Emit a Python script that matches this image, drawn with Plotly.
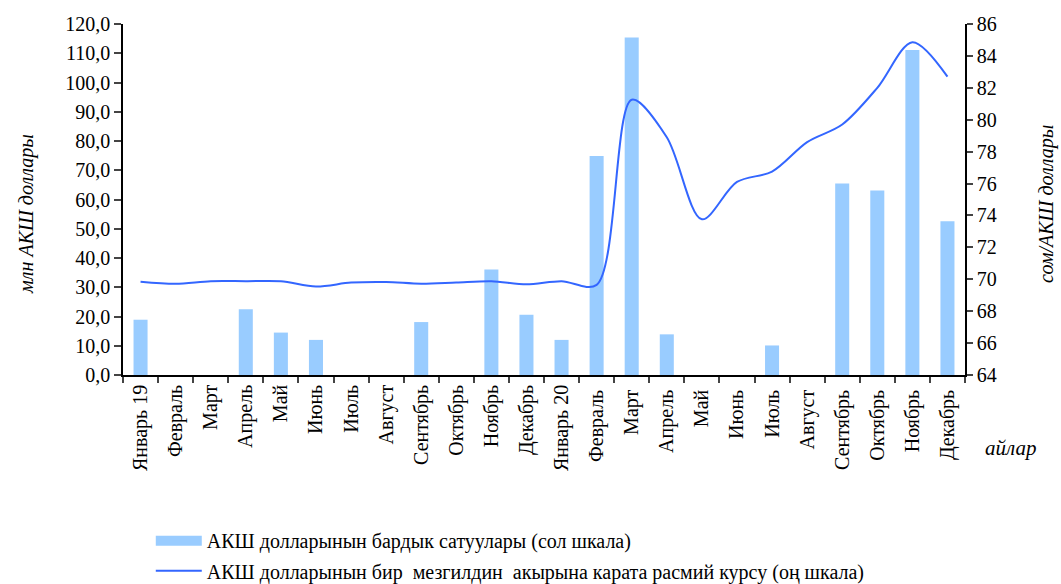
import plotly.graph_objects as go

months = ["Январь 19", "Февраль", "Март", "Апрель", "Май", "Июнь", "Июль", "Август",
          "Сентябрь", "Октябрь", "Ноябрь", "Декабрь", "Январь 20", "Февраль ", "Март ",
          "Апрель ", "Май ", "Июнь ", "Июль ", "Август ", "Сентябрь ", "Октябрь ",
          "Ноябрь ", "Декабрь "]

sales = [18.9, None, None, 22.5, 14.5, 12.0, None, None, 18.1, None, 36.1, 20.6, 12.0,
         74.9, 115.4, 13.9, None, None, 10.1, None, 65.5, 63.1, 111.1, 52.6]

rate = [69.85, 69.72, 69.88, 69.88, 69.88, 69.55, 69.79, 69.83, 69.72, 69.80, 69.88, 69.69,
        69.88, 69.65, 81.25, 78.9, 73.76, 76.1, 76.75, 78.6, 79.7, 82.0, 84.86, 82.7]

bar_name = "АКШ долларынын бардык сатуулары (сол шкала)"
line_name = "АКШ долларынын бир  мезгилдин  акырына карата расмий курсу (оң шкала)"
left_title = "млн АКШ доллары"
right_title = "сом/АКШ доллары"
x_title = "айлар"

FONT = "Liberation Serif"
BAR_COLOR = "#99CCFF"
LINE_COLOR = "#3366FF"

fig = go.Figure()
fig.add_trace(go.Bar(x=months, y=sales, name=bar_name, marker_color=BAR_COLOR,
                     marker_line_width=0, showlegend=False))
fig.add_trace(go.Scatter(x=months, y=rate, name=line_name, yaxis="y2", mode="lines",
                         line=dict(color=LINE_COLOR, width=2, shape="spline", smoothing=0.9),
                         legend="legend2"))
# legend swatch for the bars (wide rectangle like the original)
fig.add_trace(go.Scatter(x=[None], y=[None], name=bar_name, mode="lines",
                         line=dict(color=BAR_COLOR, width=10), legend="legend",
                         hoverinfo="skip"))

fig.update_layout(
    width=1061, height=584,
    margin=dict(l=123, r=96, t=24, b=209, autoexpand=False),
    paper_bgcolor="white", plot_bgcolor="white",
    separators=", ",
    font=dict(family=FONT, size=20, color="black"),
    bargap=0.6,
    showlegend=True,
    xaxis=dict(type="category", tickangle=-90, ticks="outside", ticklen=6, tickwidth=1.5,
               tickson="boundaries", showline=True, linecolor="black", linewidth=1.5,
               showgrid=False, automargin=False, tickfont=dict(size=20)),
    yaxis=dict(range=[0, 120], dtick=10, tickformat=".1f", ticks="outside", ticklen=7,
               tickwidth=1.5, showline=True, linecolor="black", linewidth=1.5,
               showgrid=False, zeroline=False, automargin=False, tickfont=dict(size=20)),
    yaxis2=dict(range=[64, 86], dtick=2, overlaying="y", side="right", ticks="outside",
                ticklen=6, tickwidth=1.5, showline=True, linecolor="black", linewidth=1.5,
                showgrid=False, zeroline=False, automargin=False, tickfont=dict(size=20)),
    legend=dict(x=0.033, y=-0.472, xanchor="left", yanchor="middle", itemwidth=46,
                font=dict(size=20), bgcolor="rgba(0,0,0,0)"),
    legend2=dict(x=0.033, y=-0.558, xanchor="left", yanchor="middle", itemwidth=46,
                 font=dict(size=20), bgcolor="rgba(0,0,0,0)"),
    annotations=[
        dict(text=left_title, xref="paper", yref="paper", x=-0.114, y=0.459,
             xanchor="center", yanchor="middle", textangle=-90, showarrow=False,
             font=dict(size=20, family=FONT, style="italic")),
        dict(text=right_title, xref="paper", yref="paper", x=1.096, y=0.487,
             xanchor="center", yanchor="middle", textangle=-90, showarrow=False,
             font=dict(size=20, family=FONT, style="italic")),
        dict(text=x_title, xref="paper", yref="paper", x=1.0546, y=-0.208,
             xanchor="center", yanchor="middle", showarrow=False,
             font=dict(size=21, family=FONT, style="italic")),
    ],
)

fig.write_html("out.html", config={"displayModeBar": False},
               post_script="document.body.style.margin='0';")
